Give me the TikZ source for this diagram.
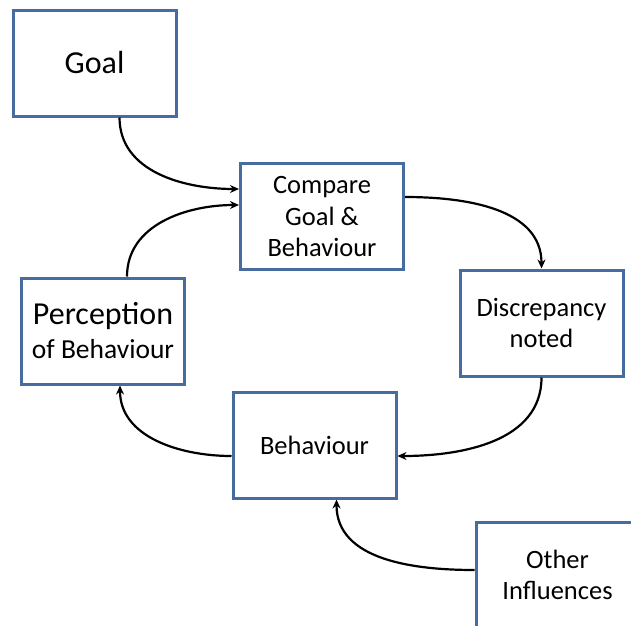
\documentclass[tikz,border=0pt]{standalone}
\usepackage{fontspec}
\setmainfont{Carlito}
\usepackage{tikz}
\usetikzlibrary{arrows.meta}
\definecolor{boxblue}{RGB}{70,108,160}

\begin{document}
\begin{tikzpicture}[x=1pt, y=-1pt,
  box/.style={draw=boxblue, line width=3pt, fill=white, minimum width=163pt,
    minimum height=106pt, align=center, inner sep=0pt, font=\fontsize{26.5}{31.5}\selectfont},
  link/.style={-{Stealth[length=9pt,width=8pt]}, line width=2.2pt}]

\useasboundingbox (0,0) rectangle (631,625);
\clip (0,0) rectangle (631,625);

\node[box, font=\fontsize{32}{36}\selectfont] (goal) at (94.5,63) {Goal};
\node[box] (compare) at (322,216.5) {Compare\\Goal \&\\Behaviour};
\node[box] (discrep) at (541.5,323) {Discrepancy\\noted};
\node[box, font=\fontsize{27.5}{34}\selectfont] (percep) at (103,331) {{\fontsize{32}{34}\selectfont Perception}\\of Behaviour};
\node[box] (behav) at (314.5,445) {Behaviour};
\node[box] (other) at (557.5,575) {Other\\Influences};

\draw[link] ([xshift=25pt]goal.south) to[out=-90, in=180] ([yshift=27.5pt]compare.west);
\draw[link] ([xshift=24pt]percep.north) to[out=90, in=180] ([yshift=11.5pt]compare.west);
\draw[link] ([yshift=19.5pt]compare.east) to[out=0, in=90] (discrep.north);
\draw[link] (discrep.south) to[out=-90, in=0] ([yshift=-11pt]behav.east);
\draw[link] ([yshift=-11pt]behav.west) to[out=180, in=-90] ([xshift=17pt]percep.south);
\draw[link] ([yshift=5pt]other.west) to[out=180, in=-90] ([xshift=22pt]behav.south);

\end{tikzpicture}
\end{document}
